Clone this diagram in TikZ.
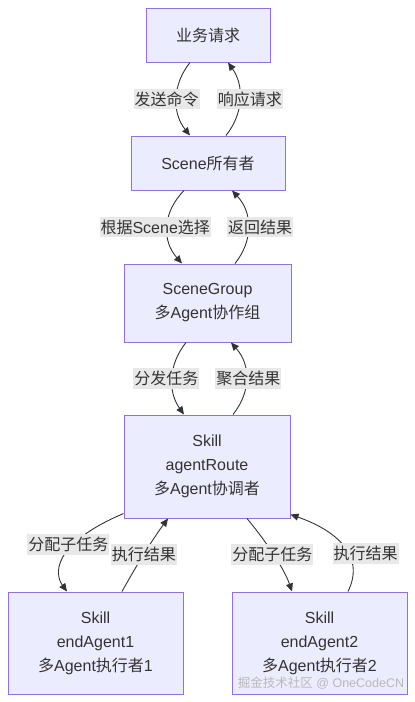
\documentclass[tikz,border=0pt]{standalone}
\usepackage{fontspec}
\setmainfont{Liberation Sans}
\newfontfamily\zh{Noto Sans CJK SC}
\usepackage{tikz}
\usetikzlibrary{arrows.meta}
\definecolor{relleno}{HTML}{ECECFF}
\definecolor{borde}{HTML}{9370DB}
\definecolor{texto}{HTML}{333333}
\definecolor{fondoetq}{HTML}{E8E8E8}
\tikzstyle{bloque}=[rectangle, draw=borde, fill=relleno, line width=1pt, text=texto, align=center, font=\fontsize{16}{24}\selectfont]
\tikzstyle{etiqueta}=[fill=fondoetq, text=texto, inner xsep=1pt, inner ysep=3pt, font=\fontsize{16}{20}\selectfont]
\tikzstyle{flecha}=[draw=texto, line width=0.9pt, -{Triangle[length=8pt,width=7pt]}]

\begin{document}
\begin{tikzpicture}[x=1pt, y=-1pt]
        \useasboundingbox (0,0) rectangle (415,702);

        % Bloques
        \node[bloque, minimum width=124pt, minimum height=54pt] (peticion) at (208,35) {\zh 业务请求};
        \node[bloque, minimum width=154pt, minimum height=54pt] (dueno) at (208,163) {Scene{\zh 所有者}};
        \node[bloque, minimum width=167pt, minimum height=78pt] (grupo) at (207.5,303) {SceneGroup\\{\zh 多}Agent{\zh 协作组}};
        \node[bloque, minimum width=166pt, minimum height=103pt] (ruta) at (207,466.5) {Skill\\agentRoute\\{\zh 多}Agent{\zh 协调者}};
        \node[bloque, minimum width=175pt, minimum height=102pt] (ejec1) at (95.5,643) {Skill\\endAgent1\\{\zh 多}Agent{\zh 执行者}1};
        \node[bloque, minimum width=175pt, minimum height=102pt] (ejec2) at (319.5,643) {Skill\\endAgent2\\{\zh 多}Agent{\zh 执行者}2};

        % Conexiones
        \draw[flecha] ([xshift=-18pt]peticion.south) .. controls (172,85) and (172,113) .. ([xshift=-18pt]dueno.north)
            node[etiqueta, midway, xshift=-10pt] {\zh 发送命令};
        \draw[flecha] ([xshift=18pt]dueno.north) .. controls (244,113) and (244,85) .. ([xshift=20pt]peticion.south)
            node[etiqueta, midway, xshift=10pt] {\zh 响应请求};

        \draw[flecha] ([xshift=-24pt]dueno.south) .. controls (162,213) and (162,241) .. ([xshift=-25.5pt]grupo.north)
            node[etiqueta, midway, xshift=-12pt] {{\zh 根据}Scene{\zh 选择}};
        \draw[flecha] ([xshift=27.5pt]grupo.north) .. controls (253,241) and (253,213) .. ([xshift=24pt]dueno.south)
            node[etiqueta, midway, xshift=12pt] {\zh 返回结果};

        \draw[flecha] ([xshift=-21.5pt]grupo.south) .. controls (168,365) and (168,392) .. ([xshift=-23pt]ruta.north)
            node[etiqueta, midway, xshift=-6pt] {\zh 分发任务};
        \draw[flecha] ([xshift=26pt]ruta.north) .. controls (251,392) and (251,365) .. ([xshift=23.5pt]grupo.south)
            node[etiqueta, midway, xshift=2pt] {\zh 聚合结果};

        \draw[flecha] ([yshift=5pt]ruta.south west) .. controls (50,545) and (55,575) .. ([xshift=-28.5pt]ejec1.north)
            node[etiqueta, pos=0.4, yshift=5pt] {\zh 分配子任务};
        \draw[flecha] ([xshift=26.5pt]ejec1.north) .. controls (135,568) and (152,540) .. ([xshift=-39pt]ruta.south)
            node[etiqueta, midway] {\zh 执行结果};

        \draw[flecha] ([xshift=40pt]ruta.south) .. controls (265,540) and (284,568) .. ([xshift=-27.5pt]ejec2.north)
            node[etiqueta, midway, xshift=-1pt] {\zh 分配子任务};
        \draw[flecha] ([xshift=28.5pt]ejec2.north) .. controls (366,555) and (335,530) .. ([yshift=4pt]ruta.south east)
            node[etiqueta, midway, xshift=23pt, yshift=-8pt] {\zh 执行结果};

        % Marca de agua
        \node[text=gray!55, font=\fontsize{12.5}{15}\selectfont] (marca) at (321,683) {{\zh 掘金技术社区} @ OneCodeCN};
\end{tikzpicture}
\end{document}
